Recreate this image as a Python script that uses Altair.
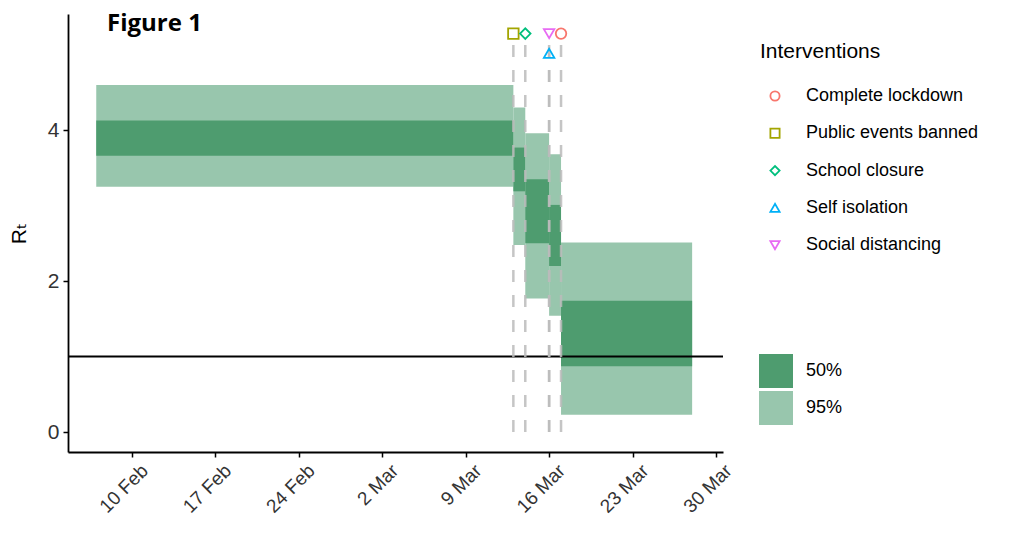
import altair as alt
import pandas as pd

# ---- data ----
seg_start = ["2020-02-07", "2020-03-13", "2020-03-14", "2020-03-16", "2020-03-17"]
seg_end = ["2020-03-13", "2020-03-14", "2020-03-16", "2020-03-17", "2020-03-28"]
lo95 = [3.25, 2.48, 1.77, 1.54, 0.23]
hi95 = [4.60, 4.30, 3.96, 3.68, 2.51]
lo50 = [3.66, 3.19, 2.50, 2.20, 0.87]
hi50 = [4.13, 3.77, 3.35, 3.01, 1.74]

iv_names = ["Complete lockdown", "Public events banned", "School closure",
            "Self isolation", "Social distancing"]
iv_dates = ["2020-03-17", "2020-03-13", "2020-03-14", "2020-03-16", "2020-03-16"]
iv_marker_y = [5.28, 5.28, 5.28, 5.02, 5.28]
iv_shapes = ["circle", "square", "diamond", "triangle-up", "triangle-down"]
iv_colors = ["#F8766D", "#A3A500", "#00BF7D", "#00B0F6", "#E76BF3"]

tick_dates = ["2020-02-10", "2020-02-17", "2020-02-24", "2020-03-02",
              "2020-03-09", "2020-03-16", "2020-03-23", "2020-03-30"]
y_ticks = [0, 2, 4]
threshold = [1]

levels = ["50%", "95%"]
level_colors = ["#4E9C6F", "#98C6AD"]

# ---- tables ----
rows = []
for s, e, lo, hi in zip(seg_start, seg_end, lo95, hi95):
    rows.append({"start": s, "end": e, "lo": lo, "hi": hi, "level": "95%"})
for s, e, lo, hi in zip(seg_start, seg_end, lo50, hi50):
    rows.append({"start": s, "end": e, "lo": lo, "hi": hi, "level": "50%"})
rib = pd.DataFrame(rows)

iv = pd.DataFrame({"name": iv_names, "date": iv_dates, "my": iv_marker_y,
                   "zero": [0] * len(iv_names)})


def ms(d, shift_days=0.0):
    t = pd.Timestamp(d, tz="UTC") + pd.Timedelta(days=shift_days)
    return int(t.value // 10**6)


xscale = alt.Scale(type="utc", domain=[ms("2020-02-10", -5.37), ms("2020-03-30", 0.59)])
yscale = alt.Scale(domain=[-0.265, 5.54], nice=False, zero=False)

FONT = "Liberation Sans, Arial, DejaVu Sans"

xaxis = alt.Axis(values=[ms(d) for d in tick_dates], format="%-d %b", labelAngle=-45,
                 labelAlign="right", labelBaseline="top", labelFontSize=19,
                 labelFont=FONT, labelColor="#333333", labelPadding=4, labelOffset=6,
                 tickSize=5, tickColor="black", domainColor="black", domainWidth=1.8,
                 tickWidth=1.5, grid=False, title=None)
yaxis = alt.Axis(values=y_ticks, format="d", labelFontSize=21, labelFont=FONT,
                 labelColor="#333333",
                 tickSize=5, tickColor="black", domainColor="black", domainWidth=1.8,
                 tickWidth=1.5, grid=False, labelPadding=4,
                 title="Rₜ", titleFont=FONT, titleFontSize=21, titleFontWeight="normal",
                 titleColor="black", titlePadding=18)

ribbons = alt.Chart(rib).mark_rect().encode(
    x=alt.X("start:T", scale=xscale, axis=xaxis),
    x2="end:T",
    y=alt.Y("lo:Q", scale=yscale, axis=yaxis),
    y2="hi:Q",
    color=alt.Color("level:N", scale=alt.Scale(domain=levels, range=level_colors),
                    legend=alt.Legend(orient="none", legendX=691, legendY=340, title=None,
                                      symbolType="square", symbolSize=1156,
                                      symbolStrokeWidth=0, labelFontSize=18, labelFont=FONT,
                                      labelColor="black", labelOffset=13, rowPadding=3)),
)

hline = alt.Chart(pd.DataFrame({"y": threshold})).mark_rule(
    color="black", strokeWidth=2).encode(y="y:Q")

vlines = alt.Chart(iv).mark_rule(color="#BBBBBB", strokeWidth=2.5, strokeDash=[12, 13],
                                 opacity=0.85).encode(
    x="date:T", y="zero:Q", y2="my:Q")

iv_legend = alt.Legend(orient="none", legendX=692, legendY=27, title="Interventions",
                       titleFontSize=21, titleFont=FONT, titleFontWeight="normal",
                       titleColor="black", titlePadding=25, labelFontSize=18,
                       labelFont=FONT, labelColor="black", labelLimit=320, symbolSize=85,
                       symbolStrokeWidth=1.8, symbolOffset=6, labelOffset=22,
                       rowPadding=19.3)

points = alt.Chart(iv).mark_point(filled=False, size=110, strokeWidth=1.8, opacity=1).encode(
    x="date:T",
    y="my:Q",
    shape=alt.Shape("name:N", scale=alt.Scale(domain=iv_names, range=iv_shapes),
                    legend=iv_legend),
    color=alt.Color("name:N", scale=alt.Scale(domain=iv_names, range=iv_colors),
                    legend=iv_legend),
)

chart = alt.layer(ribbons, hline, vlines, points).resolve_scale(
    color="independent", shape="independent"
).properties(
    width=655, height=438,
    background="white",
    autosize=alt.AutoSizeParams(type="none"),
    padding={"left": 60, "top": 6, "right": 283, "bottom": 72},
    title=alt.Title("Figure 1", font="Open Sans", fontSize=24, fontWeight="bold",
                    anchor="start", frame="group", dx=39, dy=45, color="black",
                    baseline="alphabetic"),
).configure_view(stroke="transparent", strokeWidth=0)

chart.save("out.html", embed_options={"renderer": "svg", "actions": False})
